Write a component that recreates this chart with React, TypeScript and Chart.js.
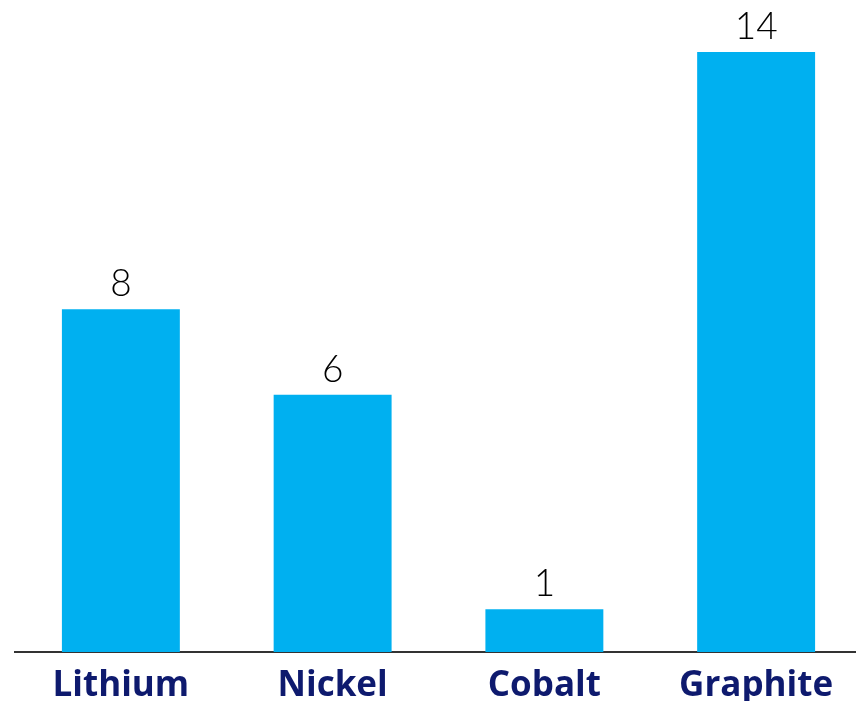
import React, { useEffect, useRef } from "react";
import { Chart, registerables } from "chart.js";

Chart.register(...registerables);

const categories = ["Lithium", "Nickel", "Cobalt", "Graphite"];
const values = [8, 6, 1, 14];

const valueLabels = {
  id: "valueLabels",
  afterDatasetsDraw(chart: any) {
    const { ctx } = chart;
    const meta = chart.getDatasetMeta(0);
    ctx.save();
    ctx.font = "300 37px Lato, 'Open Sans', sans-serif";
    ctx.fillStyle = "#000000";
    ctx.textAlign = "center";
    ctx.textBaseline = "alphabetic";
    meta.data.forEach((bar: any, i: number) => {
      ctx.fillText(String(values[i]), bar.x, bar.y - 13);
    });
    ctx.restore();
  },
};

export default function App() {
  const ref = useRef<HTMLCanvasElement>(null);
  useEffect(() => {
    const chart = new Chart(ref.current!, {
      type: "bar",
      data: {
        labels: categories,
        datasets: [
          {
            data: values,
            backgroundColor: "#00B0F0",
            categoryPercentage: 1,
            barPercentage: 0.557,
          },
        ],
      },
      options: {
        responsive: false,
        animation: false,
        layout: { padding: { top: 52, left: 15, right: 0, bottom: 0 } },
        plugins: { legend: { display: false }, tooltip: { enabled: false } },
        scales: {
          y: { display: false, min: 0, max: 14 },
          x: {
            grid: { display: false, drawTicks: false },
            border: { display: true, color: "#333333", width: 2 },
            afterFit: (scale: any) => {
              scale.height = 49;
            },
            ticks: {
              color: "#0E1A6E",
              padding: 14,
              font: { family: "'Open Sans', sans-serif", size: 35, weight: "bold", lineHeight: 1.143 },
            },
          },
        },
      },
      plugins: [valueLabels],
    });
    return () => chart.destroy();
  }, []);
  return (
    <div style={{ position: "fixed", left: 0, top: 0, width: 856, height: 701, overflow: "hidden", background: "#fff" }}>
      <canvas ref={ref} width={862} height={701} style={{ display: "block" }} />
    </div>
  );
}
